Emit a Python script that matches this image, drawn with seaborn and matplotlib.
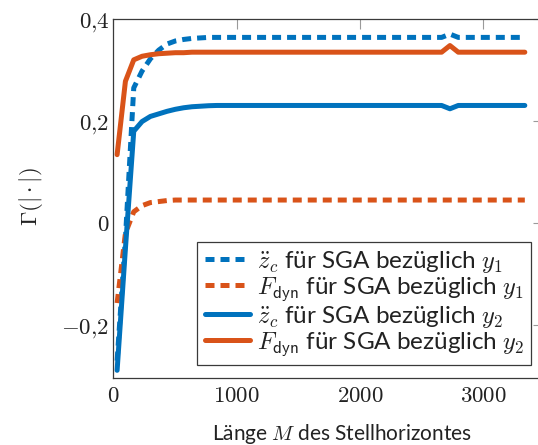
import matplotlib
matplotlib.use("Agg")
import matplotlib.pyplot as plt
import matplotlib.ticker as mticker
import pandas as pd
import seaborn as sns

# Horizon length M (grid of evaluated horizons)
M = [30, 97.5, 165, 232.5, 300, 367.5, 435, 502.5, 570, 637.5,
     705, 772.5, 840, 907.5, 975, 1042.5, 1110, 1177.5, 1245, 1312.5,
     1380, 1447.5, 1515, 1582.5, 1650, 1717.5, 1785, 1852.5, 1920, 1987.5,
     2055, 2122.5, 2190, 2257.5, 2325, 2392.5, 2460, 2527.5, 2595, 2662.5,
     2730, 2797.5, 2865, 2932.5, 3000, 3067.5, 3135, 3202.5, 3270, 3337.5]

# Gamma(|.|) for SGA with respect to y1
zc_y1 = [-0.27, -0.03, 0.265, 0.298, 0.322, 0.339, 0.351, 0.357, 0.360, 0.362,
         0.363, 0.364, 0.364, 0.364, 0.364, 0.364, 0.364, 0.364, 0.364, 0.364,
         0.364, 0.364, 0.364, 0.364, 0.364, 0.364, 0.364, 0.364, 0.364, 0.364,
         0.364, 0.364, 0.364, 0.364, 0.364, 0.364, 0.364, 0.364, 0.364, 0.364,
         0.3705, 0.364, 0.364, 0.364, 0.364, 0.364, 0.364, 0.364, 0.364, 0.364]
fdyn_y1 = [-0.157, -0.02, 0.022, 0.034, 0.040, 0.042, 0.044, 0.045, 0.045, 0.045,
           0.045, 0.045, 0.045, 0.045, 0.045, 0.045, 0.045, 0.045, 0.045, 0.045,
           0.045, 0.045, 0.045, 0.045, 0.045, 0.045, 0.045, 0.045, 0.045, 0.045,
           0.045, 0.045, 0.045, 0.045, 0.045, 0.045, 0.045, 0.045, 0.045, 0.045,
           0.045, 0.045, 0.045, 0.045, 0.045, 0.045, 0.045, 0.045, 0.045, 0.045]

# Gamma(|.|) for SGA with respect to y2
zc_y2 = [-0.289, -0.05, 0.180, 0.199, 0.209, 0.214, 0.219, 0.223, 0.226, 0.228,
         0.229, 0.230, 0.2305, 0.2305, 0.2305, 0.2305, 0.2305, 0.2305, 0.2305, 0.2305,
         0.2305, 0.2305, 0.2305, 0.2305, 0.2305, 0.2305, 0.2305, 0.2305, 0.2305, 0.2305,
         0.2305, 0.2305, 0.2305, 0.2305, 0.2305, 0.2305, 0.2305, 0.2305, 0.2305, 0.2305,
         0.224, 0.2305, 0.2305, 0.2305, 0.2305, 0.2305, 0.2305, 0.2305, 0.2305, 0.2305]
fdyn_y2 = [0.134, 0.278, 0.320, 0.327, 0.330, 0.332, 0.333, 0.334, 0.334, 0.335,
           0.335, 0.335, 0.335, 0.335, 0.335, 0.335, 0.335, 0.335, 0.335, 0.335,
           0.335, 0.335, 0.335, 0.335, 0.335, 0.335, 0.335, 0.335, 0.335, 0.335,
           0.335, 0.335, 0.335, 0.335, 0.335, 0.335, 0.335, 0.335, 0.335, 0.335,
           0.348, 0.335, 0.335, 0.335, 0.335, 0.335, 0.335, 0.335, 0.335, 0.335]

labels = [r"$\ddot{z}_c$ für SGA bezüglich $y_1$",
          r"$F_{\mathsf{dyn}}$ für SGA bezüglich $y_1$",
          r"$\ddot{z}_c$ für SGA bezüglich $y_2$",
          r"$F_{\mathsf{dyn}}$ für SGA bezüglich $y_2$"]

x_ticks = [0, 1000, 2000, 3000]
y_ticks = [-0.2, 0, 0.2, 0.4]

BLUE = "#0072BD"
ORANGE = "#D95319"

sns.set_style("white")
plt.rcParams["font.family"] = ["Lato", "DejaVu Sans"]
plt.rcParams["mathtext.fontset"] = "cm"

df = pd.DataFrame({"M": M, "zc_y1": zc_y1, "fdyn_y1": fdyn_y1,
                   "zc_y2": zc_y2, "fdyn_y2": fdyn_y2})

fig = plt.figure(figsize=(5.38, 4.45), dpi=100)
ax = fig.add_axes([0.2108, 0.1512, 0.7985, 0.806])

lw = 3.6
dash = (0, (1.8, 1.2))
series = [("zc_y1", BLUE, dash), ("fdyn_y1", ORANGE, dash),
          ("zc_y2", BLUE, "-"), ("fdyn_y2", ORANGE, "-")]
for (col, color, ls), lab in zip(series, labels):
    sns.lineplot(data=df, x="M", y=col, ax=ax, color=color, lw=lw,
                 linestyle=ls, estimator=None, sort=False, label=lab,
                 legend=False)

ax.set_xlim(0, 3485)
ax.set_ylim(-0.3035, 0.4)
ax.set_xticks(x_ticks)
ax.set_yticks(y_ticks)


def fmt(v, _pos):
    if abs(v) < 1e-9:
        return r"$0$"
    if float(v).is_integer():
        return r"$%d$" % v
    s = ("%.1f" % v).replace(".", "{,}")
    return "$" + s + "$"


ax.xaxis.set_major_formatter(mticker.FuncFormatter(fmt))
ax.yaxis.set_major_formatter(mticker.FuncFormatter(fmt))
ax.tick_params(axis="both", which="both", direction="in", length=7,
               width=0.8, color="#9a9a9a", labelsize=16.5, labelcolor="#222222",
               top=True, right=True)
ax.tick_params(axis="x", pad=5.0)
ax.tick_params(axis="y", pad=3.0)
for sp in ax.spines.values():
    sp.set_color("#3a3a3a")
    sp.set_linewidth(0.9)

ax.set_xlabel("")
ax.set_ylabel("")
fig.text(342 / 538, 1 - 439.5 / 445, r"Länge $M$ des Stellhorizontes",
         ha="center", va="baseline", fontsize=15, color="#222222")
fig.text(31 / 538, 1 - 197 / 445, r"$\Gamma(|\cdot|)$", rotation=90,
         ha="center", va="center", fontsize=16.5, color="#222222")

handles = ax.get_lines()[:4]
leg = ax.legend(handles=handles, labels=labels, loc="lower right",
                bbox_to_anchor=(0.973, 0.0354), borderaxespad=0,
                fontsize=17.5, frameon=True, fancybox=False, framealpha=1,
                edgecolor="#3a3a3a", borderpad=0.3, handlelength=1.85,
                handletextpad=0.3, labelspacing=0.02)
leg.get_frame().set_linewidth(0.9)
for t in leg.get_texts():
    t.set_color("#222222")

fig.savefig("out.png", dpi=100)
